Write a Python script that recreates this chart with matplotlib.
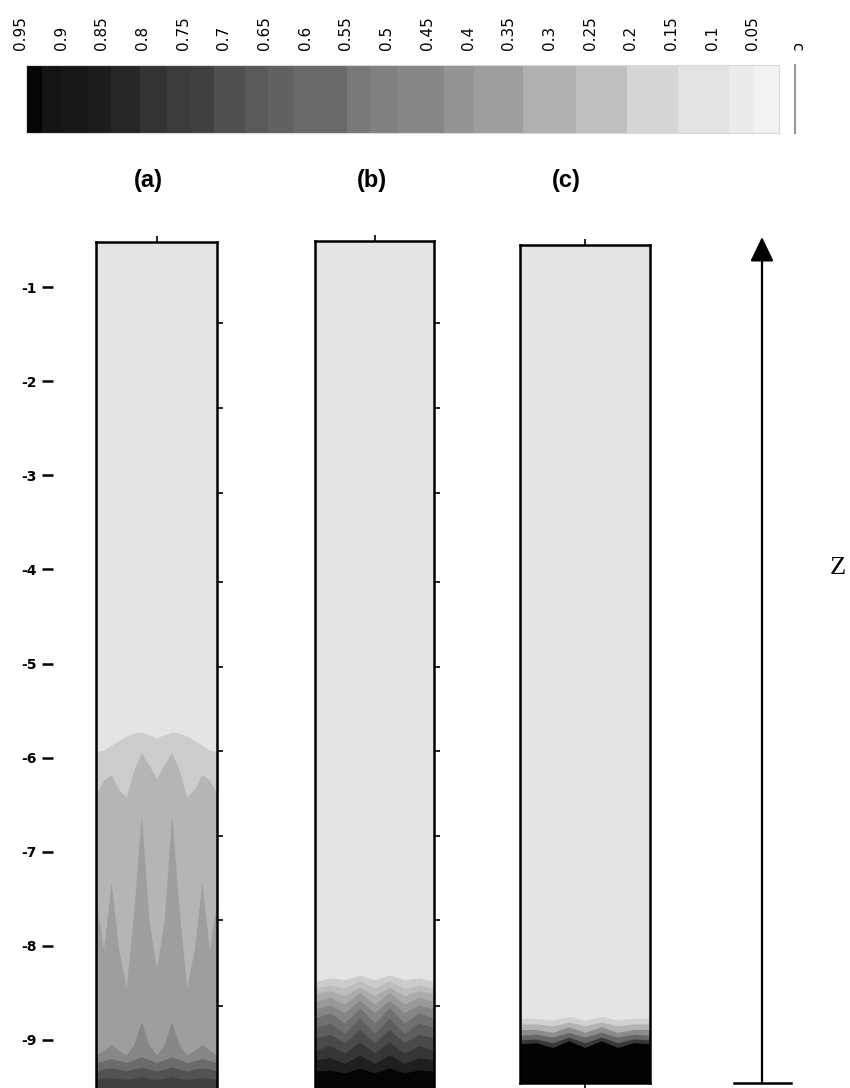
import matplotlib
matplotlib.use("Agg")
import matplotlib.pyplot as plt
import matplotlib.transforms as mtransforms

# colour scale: c at the segment edges (ascending) and the grey of each segment
cbar_edges = [0.018, 0.050, 0.079, 0.142, 0.205, 0.267, 0.333, 0.393, 0.430, 0.487, 0.521, 0.549,
              0.615, 0.646, 0.674, 0.712, 0.740, 0.770, 0.803, 0.838, 0.867, 0.899, 0.923, 0.943]
cbar_grays = [0.95, 0.92, 0.89, 0.84, 0.75, 0.69, 0.62, 0.58, 0.53, 0.50, 0.47, 0.41,
              0.38, 0.35, 0.31, 0.25, 0.23, 0.20, 0.15, 0.11, 0.09, 0.08, 0.02]
cbar_ticks = [0.95, 0.9, 0.85, 0.8, 0.75, 0.7, 0.65, 0.6, 0.55, 0.5,
              0.45, 0.4, 0.35, 0.3, 0.25, 0.2, 0.15, 0.1, 0.05]
cbar_labels = ["0.95", "0.9", "0.85", "0.8", "0.75", "0.7", "0.65", "0.6", "0.55", "0.5",
               "0.45", "0.4", "0.35", "0.3", "0.25", "0.2", "0.15", "0.1", "0.05"]

# depth ruler
depth_ticks = [-1, -2, -3, -4, -5, -6, -7, -8, -9]
depth_labels = ["-1", "-2", "-3", "-4", "-5", "-6", "-7", "-8", "-9"]
side_ticks = [-1.38, -2.28, -3.19, -4.13, -5.04, -5.93, -6.83, -7.73, -8.64]

# panel (a): fronts (depth of each contour) across the column width
xa = [0, 0.0625, 0.125, 0.1875, 0.25, 0.3125, 0.375, 0.4375, 0.5,
      0.5625, 0.625, 0.6875, 0.75, 0.8125, 0.875, 0.9375, 1]
a_fronts = [
    [-5.94, -5.92, -5.87, -5.82, -5.77, -5.74, -5.73, -5.76, -5.79, -5.76, -5.73, -5.74, -5.77, -5.82, -5.87, -5.92, -5.94],
    [-6.38, -6.24, -6.18, -6.34, -6.42, -6.13, -5.95, -6.08, -6.22, -6.08, -5.95, -6.13, -6.42, -6.34, -6.18, -6.24, -6.38],
    [-7.51, -8.04, -7.33, -8.04, -8.44, -7.62, -6.61, -7.73, -8.24, -7.73, -6.61, -7.62, -8.44, -8.04, -7.33, -8.04, -7.51],
    [-9.16, -9.11, -9.05, -9.11, -9.16, -9.05, -8.81, -9.05, -9.16, -9.05, -8.81, -9.05, -9.16, -9.11, -9.05, -9.11, -9.16],
    [-9.24, -9.22, -9.20, -9.22, -9.24, -9.21, -9.18, -9.21, -9.24, -9.21, -9.18, -9.21, -9.24, -9.22, -9.20, -9.22, -9.24],
    [-9.33, -9.31, -9.30, -9.31, -9.33, -9.31, -9.29, -9.31, -9.33, -9.31, -9.29, -9.31, -9.33, -9.31, -9.30, -9.31, -9.33],
    [-9.42, -9.41, -9.40, -9.41, -9.42, -9.41, -9.39, -9.41, -9.42, -9.41, -9.39, -9.41, -9.42, -9.41, -9.40, -9.41, -9.42],
]
a_grays = [0.894, 0.80, 0.71, 0.62, 0.53, 0.42, 0.32, 0.25]

# panel (b)
xb = [0, 0.125, 0.25, 0.375, 0.5, 0.625, 0.75, 0.875, 1]
b_fronts = [
    [-8.38, -8.34, -8.36, -8.31, -8.36, -8.31, -8.36, -8.34, -8.38],
    [-8.45, -8.42, -8.45, -8.37, -8.45, -8.37, -8.45, -8.42, -8.45],
    [-8.51, -8.48, -8.53, -8.44, -8.53, -8.44, -8.53, -8.48, -8.51],
    [-8.59, -8.55, -8.62, -8.50, -8.62, -8.50, -8.62, -8.55, -8.59],
    [-8.67, -8.63, -8.71, -8.58, -8.71, -8.58, -8.71, -8.63, -8.67],
    [-8.77, -8.71, -8.82, -8.66, -8.82, -8.66, -8.82, -8.71, -8.77],
    [-8.87, -8.82, -8.93, -8.77, -8.93, -8.77, -8.93, -8.82, -8.87],
    [-8.98, -8.94, -9.03, -8.89, -9.03, -8.89, -9.03, -8.94, -8.98],
    [-9.11, -9.06, -9.14, -9.02, -9.14, -9.02, -9.14, -9.06, -9.11],
    [-9.21, -9.19, -9.25, -9.16, -9.25, -9.16, -9.25, -9.19, -9.21],
    [-9.33, -9.32, -9.35, -9.30, -9.35, -9.30, -9.35, -9.32, -9.33],
]
b_grays = [0.894, 0.80, 0.74, 0.67, 0.60, 0.52, 0.44, 0.37, 0.29, 0.21, 0.12, 0.02]

# panel (c)
xc = [0, 0.125, 0.25, 0.375, 0.5, 0.625, 0.75, 0.875, 1]
c_fronts = [
    [-8.77, -8.77, -8.79, -8.75, -8.79, -8.75, -8.79, -8.77, -8.77],
    [-8.83, -8.83, -8.85, -8.81, -8.85, -8.81, -8.85, -8.83, -8.83],
    [-8.89, -8.89, -8.92, -8.86, -8.92, -8.86, -8.92, -8.89, -8.89],
    [-8.95, -8.94, -8.97, -8.92, -8.97, -8.92, -8.97, -8.94, -8.95],
    [-9.00, -8.99, -9.03, -8.97, -9.03, -8.97, -9.03, -8.99, -9.00],
    [-9.04, -9.03, -9.08, -9.01, -9.08, -9.01, -9.08, -9.03, -9.04],
]
c_grays = [0.894, 0.82, 0.70, 0.55, 0.40, 0.22, 0.01]

W, H = 850, 1088
fig = plt.figure(figsize=(W / 100, H / 100), dpi=100)


def px_axes(x0, y0, x1, y1):
    return fig.add_axes([x0 / W, 1 - y1 / H, (x1 - x0) / W, (y1 - y0) / H])


def zpix(py):
    # pixel row -> depth, same scale as the ruler
    return -(py - 193) / 94.1


# colour bar
cax = px_axes(26, 65, 779, 133)
for k in range(len(cbar_grays)):
    cax.bar(cbar_edges[k], 1, width=cbar_edges[k + 1] - cbar_edges[k], align="edge",
            color=str(cbar_grays[k]), linewidth=0)
cax.set_xlim(cbar_edges[-1], cbar_edges[0])
cax.set_ylim(0, 1)
cax.set_xticks([])
cax.set_yticks([])
# labels above the bar (0.95 sits just left of the bar, so drawn as text)
tr = mtransforms.blended_transform_factory(cax.transData, cax.transAxes)
for v, lab in zip(cbar_ticks, cbar_labels):
    cax.text(v, 1.22, lab, transform=tr, rotation=90, ha="center", va="bottom",
             fontsize=11, clip_on=False)
cax.text(-0.004, 1.22, "c", transform=tr, rotation=-90, ha="center", va="bottom",
         fontsize=11, clip_on=False)
cax.plot([-0.002, -0.002], [0, 1], transform=tr, color="0.6", lw=1.5, clip_on=False)
for s in cax.spines.values():
    s.set_color("0.85")
    s.set_linewidth(0.8)


def draw_panel(box, x, fronts, grays, right_ticks, bottom_tick, hide_bottom):
    ax = px_axes(*box)
    zb, zt = zpix(box[3]), zpix(box[1])
    ax.set_facecolor(str(grays[0]))
    for k, f in enumerate(fronts):
        ax.fill_between(x, f, zb - 1, color=str(grays[k + 1]), linewidth=0)
    ax.set_xlim(0, 1)
    ax.set_ylim(zb, zt)
    ax.set_xticks([0.5])
    ax.tick_params(axis="x", top=True, bottom=bottom_tick, labelbottom=False,
                   direction="out", length=4, width=1.2)
    ax.set_yticks(right_ticks)
    ax.tick_params(axis="y", left=False, right=True, labelleft=False,
                   direction="out", length=4, width=1.2)
    for s in ax.spines.values():
        s.set_linewidth(1.8)
    if hide_bottom:
        ax.spines["bottom"].set_visible(False)
    return ax


draw_panel((96, 242, 217, 1088), xa, a_fronts, a_grays, side_ticks, False, True)
draw_panel((315, 241, 434, 1088), xb, b_fronts, b_grays, side_ticks, False, True)
draw_panel((520, 245, 650, 1083), xc, c_fronts, c_grays, [], True, False)

# depth ruler on the left
rax = px_axes(42, 180, 54, 1088)
rax.set_ylim(zpix(1088), zpix(180))
rax.set_xlim(0, 1)
for s in rax.spines.values():
    s.set_visible(False)
rax.set_xticks([])
rax.set_yticks(depth_ticks, depth_labels, fontsize=10, fontweight="bold")
rax.tick_params(axis="y", direction="in", length=8, width=1.8, pad=4)
rax.patch.set_alpha(0)

# overlay for labels and the Z arrow
ov = fig.add_axes([0, 0, 1, 1])
ov.set_xlim(0, W)
ov.set_ylim(H, 0)
ov.axis("off")
for lab, xx in zip(["(a)", "(b)", "(c)"], [148, 372, 566]):
    ov.text(xx, 180, lab, ha="center", va="center", fontsize=17, fontweight="bold",
            family="Liberation Sans")
ov.annotate("", xy=(762, 237), xytext=(762, 1083),
            arrowprops=dict(arrowstyle="-|>,head_length=0.75,head_width=0.36",
                            color="k", lw=1.6, shrinkA=0, shrinkB=0, mutation_scale=20))
ov.plot([734, 791], [1083, 1083], color="k", lw=1.8)
ov.text(838, 568, "Z", ha="center", va="center", fontsize=19, family="Liberation Serif")

fig.savefig("out.png", dpi=100)
